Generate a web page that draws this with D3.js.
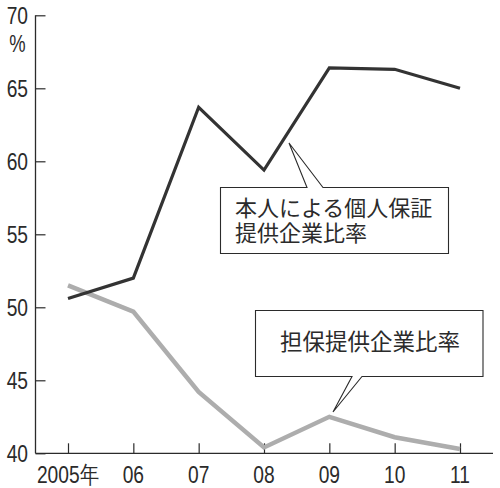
<!DOCTYPE html>
<html>
<head>
<meta charset="utf-8">
<script src="https://cdn.jsdelivr.net/npm/d3@7"></script>
<style>
  html, body { margin: 0; padding: 0; background: #fff; }
  svg { display: block; }
</style>
</head>
<body>
<svg id="chart"></svg>
<script>
// chart data
const years = ['2005年', '06', '07', '08', '09', '10', '11'];
const personalGuarantee = [50.6, 52.0, 63.7, 59.4, 66.4, 66.3, 65.0];
const collateral = [51.5, 49.7, 44.2, 40.4, 42.5, 41.1, 40.3];
const yTicks = [40, 45, 50, 55, 60, 65, 70];
const labelPersonal = ['本人による個人保証', '提供企業比率'];
const labelCollateral = '担保提供企業比率';

const width = 500;
const height = 488;
const svg = d3.select('#chart').attr('width', width).attr('height', height);

// no narrow font installed, so squeeze Liberation Sans horizontally
const numFont = '"Liberation Sans", Arial, sans-serif';
const narrow = 0.8;
const jpFont = '"Noto Sans CJK JP", "Noto Sans CJK SC", sans-serif';
const ink = '#2b2b2b';

// scales
const x = d3.scalePoint().domain(years).range([68, 460]);
const y = d3.scaleLinear().domain([40, 70]).range([453.3, 15.3]);
const axisLeft = 35.5;
const axisRight = 493;

// y axis: line plus inward ticks
const yAxis = svg.append('g').attr('transform', `translate(${axisLeft},0)`);
yAxis.call(d3.axisRight(y).tickValues(yTicks).tickSize(10).tickFormat(''));
yAxis.select('.domain').remove();
yAxis.selectAll('line').attr('stroke', ink).attr('stroke-width', 1.2);
svg.append('line')
  .attr('x1', axisLeft).attr('x2', axisLeft)
  .attr('y1', y(70)).attr('y2', y(40))
  .attr('stroke', ink).attr('stroke-width', 1.3);

svg.selectAll('text.ytick')
  .data(yTicks)
  .enter()
  .append('text')
  .attr('class', 'ytick')
  .attr('transform', (d) => `translate(28,${y(d)}) scale(${narrow},1)`)
  .attr('dy', '0.36em')
  .attr('text-anchor', 'end')
  .text((d) => d)
  .style('font-family', numFont)
  .style('font-size', '24px')
  .style('fill', ink);

svg.append('text')
  .attr('transform', `translate(17.5,52) scale(${narrow},1)`)
  .attr('text-anchor', 'middle')
  .text('%')
  .style('font-family', numFont)
  .style('font-size', '23px')
  .style('fill', ink);

// x axis: baseline plus upward ticks
const xAxis = svg.append('g').attr('transform', `translate(0,${y(40)})`);
xAxis.call(d3.axisTop(x).tickSize(10).tickFormat(''));
xAxis.select('.domain').remove();
xAxis.selectAll('line').attr('stroke', ink).attr('stroke-width', 1.2);
svg.append('line')
  .attr('x1', axisLeft).attr('x2', axisRight)
  .attr('y1', y(40)).attr('y2', y(40))
  .attr('stroke', ink).attr('stroke-width', 1.3);

svg.selectAll('text.xtick')
  .data(years)
  .enter()
  .append('text')
  .attr('class', 'xtick')
  .attr('transform', (d) => `translate(${x(d)},482.5) scale(${narrow},1)`)
  .attr('text-anchor', 'middle')
  .text((d) => d)
  .style('font-family', numFont)
  .style('font-size', '24px')
  .style('fill', ink);

// lines
const line = d3.line()
  .x((d, i) => x(years[i]))
  .y((d) => y(d));

svg.append('path')
  .datum(collateral)
  .attr('d', line)
  .attr('fill', 'none')
  .attr('stroke', '#adadad')
  .attr('stroke-width', 4.5)
  .attr('stroke-linejoin', 'miter');

svg.append('path')
  .datum(personalGuarantee)
  .attr('d', line)
  .attr('fill', 'none')
  .attr('stroke', '#333')
  .attr('stroke-width', 3.2)
  .attr('stroke-linejoin', 'miter');

// callouts: box with a pointer opening into one side
function callout(box, tip, base, side) {
  const [x0, y0, x1, y1] = box;
  const [b0, b1] = base;
  let d;
  if (side === 'top') {
    d = `M${x0},${y0} L${b0},${y0} L${tip[0]},${tip[1]} L${b1},${y0} L${x1},${y0} L${x1},${y1} L${x0},${y1} Z`;
  } else {
    d = `M${x0},${y0} L${x1},${y0} L${x1},${y1} L${b1},${y1} L${tip[0]},${tip[1]} L${b0},${y1} L${x0},${y1} Z`;
  }
  svg.append('path')
    .attr('d', d)
    .attr('fill', '#fff')
    .attr('stroke', ink)
    .attr('stroke-width', 1.1);
}

callout([220.5, 187.5, 448.5, 253.5], [289, 143], [307, 323], 'top');
svg.selectAll('text.lab1')
  .data(labelPersonal)
  .enter()
  .append('text')
  .attr('class', 'lab1')
  .attr('x', 235)
  .attr('y', (d, i) => 216 + i * 24.5)
  .text((d) => d)
  .style('font-family', jpFont)
  .style('font-size', '22px')
  .style('fill', ink);

callout([255.5, 310.5, 483, 376.5], [333, 412], [352, 362], 'bottom');
svg.append('text')
  .attr('x', 370)
  .attr('y', 350)
  .attr('text-anchor', 'middle')
  .text(labelCollateral)
  .style('font-family', jpFont)
  .style('font-size', '22.5px')
  .style('fill', ink);
</script>
</body>
</html>
